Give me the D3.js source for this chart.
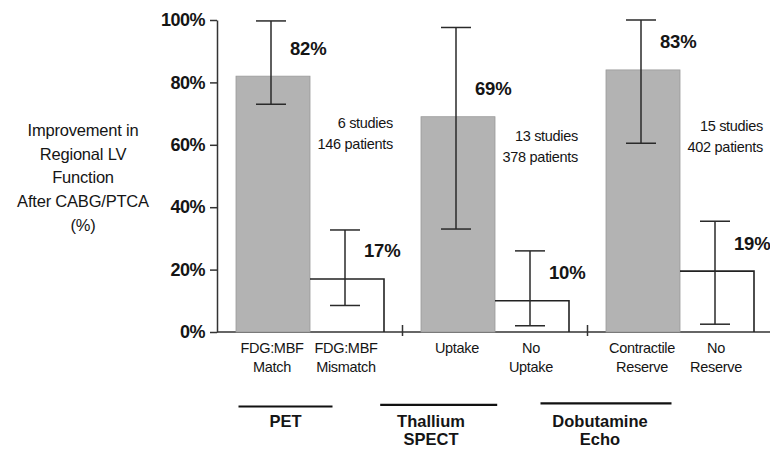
<!DOCTYPE html>
<html>
<head>
<meta charset="utf-8">
<script src="https://cdn.jsdelivr.net/npm/d3@7"></script>
<style>
  body { margin: 0; background: #fff; }
  svg { display: block; font-family: "Liberation Sans", Arial, sans-serif; }
</style>
</head>
<body>
<svg id="chart" width="770" height="454"></svg>
<script>
// ---- data ----
const groups = ["PET", "Thallium SPECT", "Dobutamine Echo"];
const groupLabels = [["PET"], ["Thallium", "SPECT"], ["Dobutamine", "Echo"]];
const categories = ["FDG:MBF Match", "FDG:MBF Mismatch", "Uptake", "No Uptake", "Contractile Reserve", "No Reserve"];
const categoryLabels = [["FDG:MBF", "Match"], ["FDG:MBF", "Mismatch"], ["Uptake"], ["No", "Uptake"], ["Contractile", "Reserve"], ["No", "Reserve"]];
const categoryGroup = [0, 0, 1, 1, 2, 2];
const viable = [true, false, true, false, true, false];
const values = [0.82, 0.17, 0.69, 0.10, 0.84, 0.195];
const valueLabels = ["82%", "17%", "69%", "10%", "83%", "19%"];
const errLow = [0.73, 0.085, 0.33, 0.02, 0.605, 0.025];
const errHigh = [0.997, 0.327, 0.976, 0.26, 1.0, 0.355];
const studies = ["6 studies", "13 studies", "15 studies"];
const patients = ["146 patients", "378 patients", "402 patients"];
const yTicks = [0, 0.2, 0.4, 0.6, 0.8, 1.0];
const yTitle = ["Improvement in", "Regional LV", "Function", "After CABG/PTCA", "(%)"];

// ---- layout ----
const svg = d3.select("#chart");
const ink = "#151515";
const y = d3.scaleLinear().domain([0, 1]).range([332, 20]);
const xg = d3.scaleBand().domain(d3.range(groups.length)).range([236, 754]).paddingInner(0.2).paddingOuter(0);
const xi = d3.scaleBand().domain([0, 1]).range([0, xg.bandwidth()]).padding(0);
const barX = i => xg(categoryGroup[i]) + xi(i % 2);
const bw = xi.bandwidth();
const ebX = i => barX(i) + bw / 2 - 2;

// y axis
const axis = d3.axisLeft(y).tickValues(yTicks).tickFormat(d3.format(".0%")).tickSize(7).tickSizeOuter(0).tickPadding(5);
const ga = svg.append("g").attr("transform", "translate(217,0)").call(axis);
ga.select(".domain").attr("stroke", "#333").attr("stroke-width", 1.5);
ga.selectAll(".tick line").attr("stroke", "#333").attr("stroke-width", 1.5);
ga.selectAll(".tick text").attr("fill", ink).attr("font-size", 18).attr("font-weight", "bold")
  .attr("font-family", "Liberation Sans, Arial, sans-serif").attr("letter-spacing", -0.5);

// y title
const yt = svg.append("text").attr("text-anchor", "middle").attr("font-size", 16.5).attr("fill", ink).attr("letter-spacing", -0.2);
yTitle.forEach((t, k) => yt.append("tspan").attr("x", 83).attr("y", 136 + k * 23.7).text(t));

// baseline
svg.append("line").attr("x1", 217).attr("x2", 770).attr("y1", y(0)).attr("y2", y(0))
  .attr("stroke", "#333").attr("stroke-width", 1.5);

// group separator ticks
for (let g = 0; g < groups.length - 1; g++) {
  const sx = xg(g) + xg.bandwidth() + (xg.step() - xg.bandwidth()) / 2;
  svg.append("line").attr("x1", sx).attr("x2", sx).attr("y1", y(0) - 7).attr("y2", y(0) + 4)
    .attr("stroke", "#333").attr("stroke-width", 1.5);
}

// bars
categories.forEach((c, i) => {
  const x0 = barX(i), yv = y(values[i]);
  if (viable[i]) {
    svg.append("rect").attr("x", x0).attr("y", yv).attr("width", bw).attr("height", y(0) - yv)
      .attr("fill", "#b3b3b3").attr("stroke", "#9a9a9a").attr("stroke-width", 0.8);
  } else {
    svg.append("path").attr("d", `M${x0},${yv}H${x0 + bw}V${y(0)}`)
      .attr("fill", "none").attr("stroke", "#222").attr("stroke-width", 1.6);
  }
});

// error bars
categories.forEach((c, i) => {
  const cx = ebX(i), hw = 15;
  const g = svg.append("g").attr("stroke", "#2a2a2a").attr("stroke-width", 1.5).attr("fill", "none");
  g.append("line").attr("x1", cx).attr("x2", cx).attr("y1", y(errHigh[i])).attr("y2", y(errLow[i]));
  g.append("line").attr("x1", cx - hw).attr("x2", cx + hw).attr("y1", y(errHigh[i])).attr("y2", y(errHigh[i]));
  g.append("line").attr("x1", cx - hw).attr("x2", cx + hw).attr("y1", y(errLow[i])).attr("y2", y(errLow[i]));
});

// value labels
categories.forEach((c, i) => {
  svg.append("text").attr("x", ebX(i) + 19).attr("y", y(values[i]) - 28).attr("dy", "0.35em")
    .attr("font-size", 18.5).attr("font-weight", "bold").attr("fill", ink).attr("letter-spacing", -0.2)
    .text(valueLabels[i]);
});

// studies / patients
const studyOffset = [-17, -3.5, -13.5];
groups.forEach((g, k) => {
  const rx = xg(k) + xg.bandwidth() + 9;
  const base = y(0.6) + studyOffset[k];
  svg.append("text").attr("text-anchor", "end").attr("font-size", 14.5).attr("fill", ink).attr("letter-spacing", -0.3)
    .attr("x", rx).attr("y", base).text(studies[k]);
  svg.append("text").attr("text-anchor", "end").attr("font-size", 14.5).attr("fill", ink).attr("letter-spacing", -0.3)
    .attr("x", rx).attr("y", base + 21).text(patients[k]);
});

// category labels
categories.forEach((c, i) => {
  const cx = barX(i) + bw / 2 - 1;
  const t = svg.append("text").attr("text-anchor", "middle").attr("font-size", 14.5).attr("fill", ink).attr("letter-spacing", -0.3);
  categoryLabels[i].forEach((l, k) => t.append("tspan").attr("x", cx).attr("y", 353 + k * 18.5).text(l));
});

// group labels with overline
const xl = d3.scaleOrdinal().domain(d3.range(groups.length)).range([285.5, 431, 600]);
const lineCenter = d3.scaleOrdinal().domain(d3.range(groups.length)).range([285.5, 438.7, 606]);
const lineWidth = d3.scaleOrdinal().domain(d3.range(groups.length)).range([94, 117, 131]);
groups.forEach((g, k) => {
  const cx = xl(k);
  groupLabels[k].forEach((l, j) =>
    svg.append("text").attr("text-anchor", "middle").attr("font-size", 16.5).attr("font-weight", "bold")
      .attr("fill", ink).attr("x", cx).attr("y", 427 + j * 18).text(l));
  const lc = lineCenter(k), w = lineWidth(k);
  svg.append("line").attr("x1", lc - w / 2).attr("x2", lc + w / 2).attr("y1", 406.5 - k * 1.6).attr("y2", 406.5 - k * 1.6)
    .attr("stroke", "#111").attr("stroke-width", 2.2);
});
</script>
</body>
</html>
